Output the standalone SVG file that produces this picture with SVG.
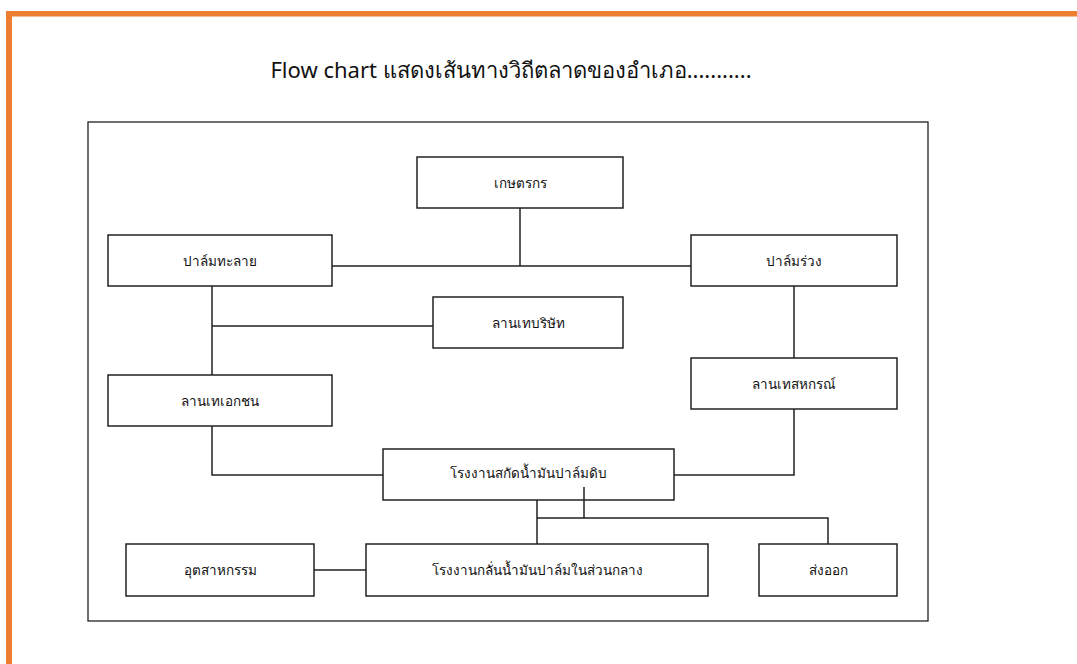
<svg xmlns="http://www.w3.org/2000/svg" width="1077" height="664" viewBox="0 0 1077 664">
<style>
.frame{fill:#ED7D31}
.box{fill:#fff;stroke:#222;stroke-width:1.5}
.lbl{font-family:"Noto Sans","DejaVu Sans",sans-serif;font-size:13.5px;font-weight:500;fill:#111;text-anchor:middle;dominant-baseline:central}
.conn{fill:none;stroke:#222;stroke-width:1.5}
.title{font-family:"Noto Sans","DejaVu Sans",sans-serif;font-size:22px;fill:#111;text-anchor:middle}
</style>
<rect width="1077" height="664" fill="#fff"/>
<rect class="frame" x="6" y="11" width="1071" height="5.5"/>
<rect class="frame" x="6" y="11" width="6" height="653"/>
<text class="title" x="511" y="78">Flow chart แสดงเส้นทางวิถีตลาดของอำเภอ...........</text>
<rect x="88" y="122" width="840" height="499" fill="none" stroke="#222" stroke-width="1.3"/>
<g id="n1"><rect class="box" x="417" y="157" width="206" height="51"/><text class="lbl" x="520" y="182.5">เกษตรกร</text></g>
<g id="n2"><rect class="box" x="108" y="235" width="224" height="51"/><text class="lbl" x="220" y="260.5">ปาล์มทะลาย</text></g>
<g id="n3"><rect class="box" x="691" y="235" width="206" height="51"/><text class="lbl" x="794" y="260.5">ปาล์มร่วง</text></g>
<g id="n4"><rect class="box" x="433" y="297" width="190" height="51"/><text class="lbl" x="528" y="322.5">ลานเทบริษัท</text></g>
<g id="n5"><rect class="box" x="691" y="358" width="206" height="51"/><text class="lbl" x="794" y="383.5">ลานเทสหกรณ์</text></g>
<g id="n6"><rect class="box" x="108" y="375" width="224" height="51"/><text class="lbl" x="220" y="400.5">ลานเทเอกชน</text></g>
<g id="n7"><rect class="box" x="383" y="449" width="291" height="51"/><text class="lbl" x="528" y="473">โรงงานสกัดน้ำมันปาล์มดิบ</text></g>
<g id="n8"><rect class="box" x="126" y="544" width="188" height="52"/><text class="lbl" x="220" y="570">อุตสาหกรรม</text></g>
<g id="n9"><rect class="box" x="366" y="544" width="342" height="52"/><text class="lbl" x="537" y="570">โรงงานกลั่นน้ำมันปาล์มในส่วนกลาง</text></g>
<g id="n10"><rect class="box" x="759" y="544" width="138" height="52"/><text class="lbl" x="828" y="570">ส่งออก</text></g>
<g id="connectors">
<path class="conn" d="M520 208V266M332 266H691"/>
<path class="conn" d="M212 286V375M212 326H433"/>
<path class="conn" d="M794 286V358"/>
<path class="conn" d="M212 426V475H383"/>
<path class="conn" d="M794 409V475H674"/>
<path class="conn" d="M537 500V544M584 487V518M537 518H828V544"/>
<path class="conn" d="M314 570H366"/>
</g>
</svg>
